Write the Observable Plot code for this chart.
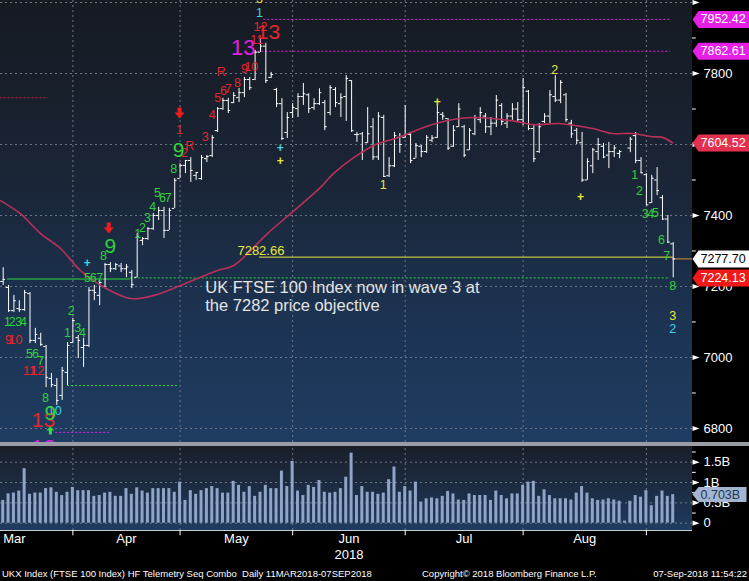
<!DOCTYPE html>
<html><head><meta charset="utf-8">
<script src="https://cdn.jsdelivr.net/npm/d3@7"></script>
<script src="https://cdn.jsdelivr.net/npm/@observablehq/plot@0.6"></script>
<style>
html,body{margin:0;padding:0;background:#000;}
#root{position:relative;width:749px;height:581px;overflow:hidden;background:#000;font-family:"Liberation Sans",Arial,sans-serif;}
#root svg{position:absolute;left:0;display:block;max-width:none;}
.sep{position:absolute;left:0;top:442px;width:749px;height:4px;background:#9a9da3;}
.foot{position:absolute;top:568px;color:#fff;font-size:9.5px;white-space:pre;line-height:12px;font-family:"Liberation Sans",Arial,sans-serif;}
</style></head><body><div id="root"></div>
<script>
// ---------- DATA (trading-day index k = 0 .. 125, 12 Mar 2018 .. 7 Sep 2018) ----------
const high = [7253,7203,7175,7160,7189,7183,7082,7068,7034,6955,
6941,6972,7042,7110,7062,7054,7197,7203,7217,7265,
7267,7265,7265,7262,7245,7349,7338,7366,7406,7423,
7423,7420,7504,7546,7555,7563,7521,7569,7569,7625,
7704,7730,7730,7746,7758,7789,7789,7865,7899,7885,
7803,7758,7729,7690,7715,7743,7772,7743,7729,7757,
7724,7766,7760,7743,7794,7780,7634,7634,7704,7673,
7690,7682,7563,7634,7631,7710,7634,7603,7597,7625,
7625,7710,7690,7673,7653,7715,7654,7645,7682,7704,
7687,7676,7738,7715,7687,7715,7718,7786,7752,7653,
7659,7687,7752,7794,7780,7744,7668,7645,7634,7560,
7589,7617,7603,7606,7597,7583,null,7620,7634,7563,
7518,7513,7535,7456,7400,7324];
const low = [7203,7127,7127,7127,7130,7039,7039,7031,6915,6915,
6865,6879,6921,7039,6997,6972,7028,7160,7146,7197,
7239,7245,7239,7225,7194,7225,7315,7330,7358,7386,
7335,7358,7420,7504,7518,7493,7499,7499,7549,7563,
7634,7696,7687,7715,7718,7732,7752,7780,7859,7772,
7786,7704,7611,7617,7673,7676,7710,7687,7696,7710,
7639,7681,7704,7676,7665,7634,7606,7555,7603,7555,
7555,7507,7507,7535,7575,7617,7546,7561,7563,7575,
7605,7617,7668,7583,7592,7648,7563,7583,7625,7659,
7631,7625,7648,7653,7645,7668,7662,7653,7639,7549,
7575,7659,7659,7718,7715,7662,7617,7600,7493,7499,
7518,7555,7560,7532,7563,7560,null,7577,7546,7518,
7428,7434,7456,7386,7321,7224.13];
const open = [7214,7197,7132,7138,7135,7180,7048,7054,7031,6941,
6921,6893,6958,7042,7056,7028,7034,7189,7175,7200,
7262,7250,7258,7250,7240,7226,7330,7335,7363,7400,
7414,7358,7420,7504,7541,7555,7513,7504,7560,7569,
7639,7701,7724,7718,7732,7746,7783,7783,7860,7877,
7789,7755,7715,7634,7690,7701,7735,7740,7704,7715,
7718,7690,7755,7715,7735,7780,7628,7630,7605,7650,
7565,7676,7512,7540,7620,7620,7628,7561,7595,7580,
7612,7620,7685,7673,7595,7650,7650,7585,7630,7670,
7680,7650,7660,7710,7660,7680,7700,7670,7750,7645,
7580,7665,7680,7735,7725,7740,7660,7640,7605,7500,
7540,7580,7595,7570,7580,7575,null,7590,7625,7555,
7515,7436,7500,7450,7390,7320];
const close = [7220,7132,7160,7135,7183,7048,7065,7037,6944,6924,
6879,6963,7034,7104,7048,7034,7189,7183,7211,7262,
7250,7262,7250,7255,7205,7340,7335,7363,7400,7414,
7358,7414,7499,7541,7555,7527,7521,7563,7566,7619,
7701,7724,7696,7738,7746,7783,7760,7860,7877,7780,
7797,7715,7617,7676,7704,7735,7743,7701,7715,7746,
7650,7760,7718,7732,7786,7639,7628,7580,7630,7565,
7680,7510,7540,7625,7600,7628,7555,7597,7580,7620,
7618,7690,7680,7590,7640,7700,7570,7640,7675,7690,
7650,7660,7725,7665,7680,7700,7670,7760,7645,7560,
7650,7680,7740,7725,7775,7670,7630,7612,7500,7552,
7585,7600,7565,7580,7590,7580,null,7615,7555,7520,
7430,7505,7470,7390,7325,7277.70];
// volume, billions of shares
const volume = [0.56,0.72,0.74,0.79,1.34,0.71,0.74,0.74,0.85,0.87,
0.76,0.68,0.76,0.88,0.80,0.80,0.80,0.66,0.68,0.74,
0.76,0.66,0.66,0.85,0.71,0.87,0.79,0.74,0.85,0.85,
0.85,0.85,0.76,1.01,0.56,0.80,0.71,0.80,0.85,0.90,
0.85,0.74,0.74,1.03,0.93,0.76,0.90,0.66,0.76,0.93,
0.85,0.85,1.28,0.90,1.52,0.79,0.68,0.93,0.88,1.05,
0.76,0.74,0.76,0.85,1.13,1.72,0.68,0.90,0.76,0.76,
0.71,0.74,1.07,1.38,0.76,0.90,0.79,1.01,0.52,0.60,
0.62,0.60,0.66,0.78,0.72,0.57,0.56,0.72,0.68,0.68,
0.68,0.56,0.79,0.68,0.60,0.72,0.72,0.93,1.01,1.03,
0.66,0.82,0.68,0.60,0.60,0.60,0.57,0.74,0.90,0.74,
0.60,0.56,0.57,0.60,0.57,0.54,0.05,0.54,0.68,0.64,
0.80,0.43,0.66,0.79,0.66,0.703];
// moving average
const maIdx = [-0.5,3.2,7,10.7,14.4,18.2,23.8,28.1,33.1,40,43,49.3,53.6,59.2,61.6,65.4,69.5,73.2,76.9,80.7,85,88.1,91.3,95.6,98.8,103.6,106.8,110,113.7,117.4,121.1,123,124.9];
const maVal = [7442,7405,7349,7307,7245,7203,7166,7175,7203,7245,7259,7349,7405,7479,7518,7563,7600,7617,7639,7659,7673,7676,7673,7665,7656,7659,7653,7645,7631,7631,7622,7620,7604.52];
// month axis
const monthNames = ["Mar","Apr","May","Jun","Jul","Aug"];
const monthGridIdx = [13,33,54,75,97,120];
const yearLabel = "2018";
// price axis
const priceGrid = [8000,7800,7600,7400,7200,7000,6800];
const priceLabels = [7800,7400,7200,7000,6800];
const priceMinor = [7900,7700,7500,7300,7100,6900];
const volTicks = [0,0.5,1,1.5];
const volMinor = [0.25,0.75,1.25,1.75];
// levels
const magentaLevels = [{v:7952.42,k1:48.6,k2:124.5},{v:7862.61,k1:47.5,k2:124.5},{v:6789,k1:9.8,k2:20}];
const greenDotLevels = [{v:7224.13,k1:23.7,k2:124.5},{v:6921,k1:12,k2:32.5}];
const greenSolidLevels = [{v:7221,k1:0.8,k2:23.7}];
const redDotLevels = [{v:7732,k1:-0.6,k2:8.5}];
const objectiveLevels = [{v:7282.66,k1:47.8,k2:125}];
const lastPriceLevels = [{v:7277.70,k1:125,k2:128.6}];
const objectiveText = [{k:43.7,v:7301,t:"7282.66"}];
const priceTags = [{v:7952.42,t:"7952.42"},{v:7862.61,t:"7862.61"},{v:7604.52,t:"7604.52"},{v:7277.70,t:"7277.70"},{v:7224.13,t:"7224.13"}];
const volTags = [{v:0.703,t:"0.703B"}];
const noteLines = [{k:37.7,v:7197,t:"UK FTSE 100 Index now in wave 3 at"},{k:37.7,v:7146,t:"the 7282 price objective"}];
// sequential count labels [k, value, text]
const greenSmall = [[0.8,7099,"1"],[1.7,7099,"2"],[2.9,7099,"3"],[3.8,7099,"4"],[4.9,7011,"5"],[6.0,7011,"6"],[7.0,6989,"7"],[7.9,6887,"8"],
[12.0,7068,"1"],[12.7,7132,"2"],[13.9,7084,"3"],[14.8,7070,"4"],[15.7,7225,"5"],[16.8,7225,"6"],[18.0,7225,"7"],[18.7,7287,"8"],
[25.1,7349,"1"],[26.0,7366,"2"],[26.9,7392,"3"],[27.9,7425,"4"],[28.8,7462,"5"],[29.7,7448,"6"],[30.8,7448,"7"],[31.8,7532,"8"],
[117.8,7515,"1"],[118.7,7468,"2"],[119.8,7403,"3"],[120.8,7403,"4"],[121.7,7408,"5"],[122.8,7330,"6"],[123.8,7287,"7"],[124.9,7200,"8"]];
const greenBig = [[8.8,6842,"9"],[20.0,7313,"9"],[32.7,7583,"9"]];
const redSmall = [[1.0,7048,"9"],[2.3,7048,"10"],[4.9,6963,"11"],[6.4,6963,"12"],[32.9,7642,"1"],[33.8,7575,"2"],[34.8,7597,"R"],
[37.7,7620,"3"],[39.0,7684,"4"],[40.0,7730,"5"],[41.1,7752,"6"],[42.0,7755,"7"],[40.7,7803,"R"],[43.7,7772,"8"],[45.0,7814,"9"],[46.3,7817,"10"],
[47.3,7893,"11"],[48.0,7930,"12"]];
const redBig = [[7.5,6822,"13"],[49.5,7916,"13"]];
const magentaBig = [[44.8,7873,"13"],[7.5,6746,"13"]];
const cyanLabels = [[9.6,6848,"10"],[47.8,7969,"1"],[124.9,7079,"2"]];
const yellowLabels = [[47.8,8011,"3"],[70.9,7487,"1"],[102.9,7811,"2"],[124.9,7118,"3"]];
const cyanCross = [[15.7,7265],[51.7,7591]];
const yellowCross = [[51.7,7552],[81,7718],[107.7,7453]];
const arrowsDown = [[19.7,7363],[32.9,7687]];
const arrowsUp = [[8.8,6794]];

// ---------- DRAW ----------
const xDomain = [-0.504, 128.6];
const xMax = xDomain[1];
const bars = high.map((h,k)=>({k,h,l:low[k],o:open[k],c:close[k]})).filter(d=>d.h!=null);
const volData = volume.map((v,k)=>({k,v}));
const ma = maIdx.map((k,i)=>({k,v:maVal[i]}));
const lab = a => a.map(([k,v,t])=>({k,v,t}));
const gridC = "#6f7786";
const FONT = "Liberation Sans, Arial, sans-serif";

const tag = (w,h) => ({draw(c){c.moveTo(0,0);c.lineTo(6,-h/2);c.lineTo(w,-h/2);c.lineTo(w,h/2);c.lineTo(6,h/2);c.closePath();}});
const tri = {draw(c){c.moveTo(0,-2.6);c.lineTo(7,0);c.lineTo(0,2.6);c.closePath();}};
const arrowDown = {draw(c){c.moveTo(-2,-6);c.lineTo(2,-6);c.lineTo(2,-1);c.lineTo(5,-1);c.lineTo(0,5);c.lineTo(-5,-1);c.lineTo(-2,-1);c.closePath();}};
const arrowUp = {draw(c){c.moveTo(-1.5,4);c.lineTo(1.5,4);c.lineTo(1.5,0);c.lineTo(4,0);c.lineTo(0,-4);c.lineTo(-4,0);c.lineTo(-1.5,0);c.closePath();}};
const tagFill = {"7952.42":"#e61fe6","7862.61":"#e61fe6","7604.52":"#e3304f","7277.70":"#ffffff","7224.13":"#f01818"};
const tagText = {"7277.70":"#000000"};

const levelRule = (data, stroke, dash) => Plot.ruleY(data, {y:"v", x1:"k1", x2:"k2", stroke, strokeDasharray: dash, strokeWidth: 1});
const txt = (data, fill, size, extra={}) => Plot.text(lab(data), {x:"k", y:"v", text:"t", fill, fontSize:size, clip:true, ...extra});

const price = Plot.plot({
  width: 749, height: 442, marginTop: 0, marginBottom: 0, marginLeft: 0, marginRight: 57,
  x: {domain: xDomain, axis: null},
  y: {domain: [6760.5, 8005.6], axis: null},
  style: {background: "linear-gradient(to right, rgba(0,0,0,0) 692px, #000 692px), linear-gradient(to bottom, #161a21 0%, #1a2536 40%, #1c3250 70%, #1e3d62 100%)", fontFamily: FONT, maxWidth: "none", overflow: "visible"},
  marks: [
    Plot.ruleY(priceGrid, {stroke: gridC, strokeDasharray: "2,3"}),
    Plot.ruleX(monthGridIdx, {stroke: gridC, strokeDasharray: "2,3"}),
    levelRule(redDotLevels, "#c8202c", "2,2"),
    levelRule(magentaLevels, "#e020e0", "2,2"),
    levelRule(greenDotLevels, "#2ed83a", "2,2"),
    levelRule(greenSolidLevels, "#2ed83a", null),
    levelRule(objectiveLevels, "#e8e83c", null),
    levelRule(lastPriceLevels, "#dc8a3c", null),
    Plot.ruleX(bars, {x:"k", y1:"l", y2:"h", stroke:"#ffffff", clip:true}),
    Plot.ruleY(bars, {y:"o", x1: d=>d.k-0.45, x2:"k", stroke:"#ffffff", clip:true}),
    Plot.ruleY(bars, {y:"c", x1:"k", x2: d=>d.k+0.45, stroke:"#ffffff", clip:true}),
    Plot.line(ma, {x:"k", y:"v", stroke:"#b8305a", strokeWidth:1.6, curve:"catmull-rom", clip:true}),
    Plot.text(objectiveText, {x:"k", y:"v", text:"t", fill:"#e8e83c", fontSize:13, textAnchor:"start"}),
    Plot.text(noteLines, {x:"k", y:"v", text:"t", fill:"#e4e4e4", fontSize:16.5, textAnchor:"start"}),
    txt(greenSmall, "#2fd03c", 12.5),
    txt(redSmall, "#e3262e", 12.5),
    txt(cyanLabels, "#3fd3e3", 12.5),
    txt(yellowLabels, "#e6e63c", 12.5),
    txt(redBig, "#e3262e", 21),
    txt(magentaBig, "#e020e0", 22),
    txt(greenBig, "#2fd03c", 21),
    Plot.text(cyanCross, {x: d=>d[0], y: d=>d[1], text: ()=>"+", fill:"#3fd3e3", fontSize:12, fontWeight:"bold"}),
    Plot.text(yellowCross, {x: d=>d[0], y: d=>d[1], text: ()=>"+", fill:"#e6e63c", fontSize:12, fontWeight:"bold"}),
    Plot.dot(arrowsDown, {x: d=>d[0], y: d=>d[1], symbol: arrowDown, fill:"#f01c1c", stroke:null}),
    Plot.dot(arrowsUp, {x: d=>d[0], y: d=>d[1], symbol: arrowUp, fill:"#2fe03c", stroke:null}),
    // right axis
    Plot.dot(priceGrid, {y: d=>d, frameAnchor:"right", symbol: tri, fill:"#ffffff", stroke:null}),
    Plot.ruleY(priceMinor, {y: d=>d, x1: xMax, x2: xMax+0.7, stroke:"#ffffff"}),
    Plot.text(priceLabels, {y: d=>d, text: d=>String(d), frameAnchor:"right", textAnchor:"start", dx:11, fill:"#ffffff", fontSize:13}),
    Plot.dot(priceTags, {y:"v", frameAnchor:"right", symbol: tag(57,17), fill: d=>tagFill[d.t], stroke:null}),
    Plot.text(priceTags, {y:"v", text:"t", frameAnchor:"right", textAnchor:"start", dx:8, fill: d=>tagText[d.t] || "#ffffff", fontSize:12.5})
  ]
});

const monthLabelData = monthNames.slice(1).map((m,i)=>({m, k:(monthGridIdx[i]+monthGridIdx[i+1])/2}));
const vol = Plot.plot({
  width: 749, height: 135, marginTop: 0, marginBottom: 51, marginLeft: 0, marginRight: 57,
  x: {domain: xDomain, axis: null},
  y: {domain: [-0.179, 1.885], axis: null},
  style: {background: "linear-gradient(to right, rgba(0,0,0,0) 692px, #000 692px), linear-gradient(to bottom, #1a1f29 0px, #1c2d45 45px, #1f3c60 84px, #000 84px)", fontFamily: FONT, maxWidth: "none", overflow: "visible"},
  marks: [
    Plot.ruleY(volTicks, {stroke: gridC, strokeDasharray: "2,3"}),
    Plot.ruleX(monthGridIdx, {y1: -0.179, y2: 1.885, stroke: gridC, strokeDasharray: "2,3"}),
    Plot.rect(volData, {x1: d=>d.k-0.28, x2: d=>d.k+0.28, y1: 0, y2: "v", fill:"#8fa4c6", clip:true}),
    Plot.ruleY([-0.179], {x1: xDomain[0], x2: xMax, stroke:"#c9ced6"}),
    Plot.ruleX(monthGridIdx, {y1: -0.179, y2: -0.31, stroke:"#ffffff"}),
    Plot.text([monthNames[0]], {x: 0, text: d=>d, frameAnchor:"bottom", textAnchor:"start", dy: 12, fill:"#ffffff", fontSize:13}),
    Plot.text(monthLabelData, {x:"k", text:"m", frameAnchor:"bottom", dy: 12, fill:"#ffffff", fontSize:13}),
    Plot.text([yearLabel], {x: monthLabelData[2].k, text: d=>d, frameAnchor:"bottom", dy: 28, fill:"#ffffff", fontSize:13}),
    Plot.dot(volTicks, {y: d=>d, frameAnchor:"right", symbol: tri, fill:"#ffffff", stroke:null}),
    Plot.ruleY(volMinor, {y: d=>d, x1: xMax, x2: xMax+0.7, stroke:"#ffffff"}),
    Plot.text(volTicks, {y: d=>d, text: d=> d===0 ? "0" : d+"B", frameAnchor:"right", textAnchor:"start", dx:11, fill:"#ffffff", fontSize:13}),
    Plot.dot(volTags, {y:"v", frameAnchor:"right", symbol: tag(54,15), fill:"#a3b5d0", stroke:null}),
    Plot.text(volTags, {y:"v", text:"t", frameAnchor:"right", textAnchor:"start", dx:8, fill:"#1d3557", fontSize:12.5})
  ]
});

const root = document.getElementById("root");
price.style.top = "0px";
vol.style.top = "446px";
root.appendChild(price);
const sep = document.createElement("div"); sep.className = "sep"; root.appendChild(sep);
root.appendChild(vol);
const foot = [
  {t:"UKX Index (FTSE 100 Index) HF Telemetry Seq Combo  Daily 11MAR2018-07SEP2018", left:2},
  {t:"Copyright\u00A9 2018 Bloomberg Finance L.P.", left:422},
  {t:"07-Sep-2018 11:54:22", right:2}
];
foot.forEach(f=>{const d=document.createElement("div");d.className="foot";d.textContent=f.t;if(f.left!=null)d.style.left=f.left+"px";else d.style.right=f.right+"px";root.appendChild(d);});
</script></body></html>
